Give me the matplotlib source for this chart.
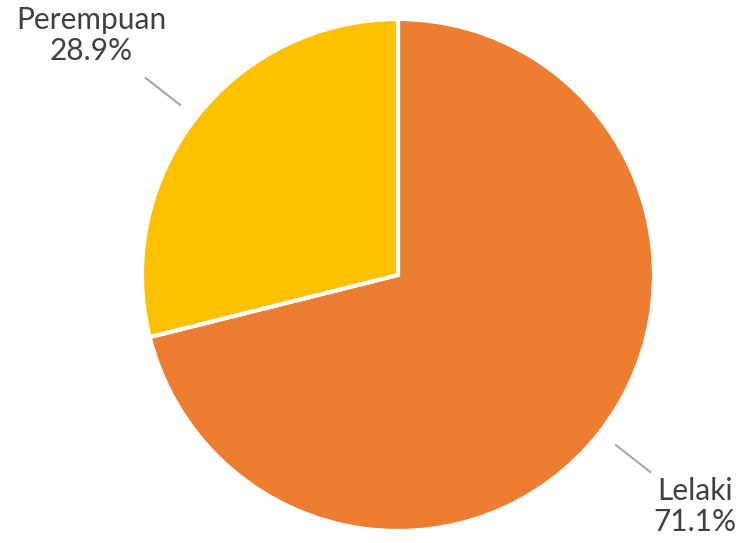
import matplotlib
matplotlib.use("Agg")

import numpy as np
import matplotlib.pyplot as plt

plt.rcParams["font.family"] = ["Lato", "DejaVu Sans"]

# Data
categories = ["Lelaki", "Perempuan"]
shares = [71.1, 28.9]
colors = ["#ED7D31", "#FFC000"]

C_TEXT = "#404040"
C_LINE = "#A6A6A6"

W, H = 736, 543
fig = plt.figure(figsize=(W / 100, H / 100), dpi=100)
ax = fig.add_axes([0, 0, 1, 1])

cx, cy, r = 398, 268, 256
wedges, _ = ax.pie(
    shares, colors=colors, startangle=90, counterclock=False,
    center=(cx, cy), radius=r, explode=[0.02, 0.02],
    wedgeprops=dict(edgecolor="white", linewidth=3),
    frame=True,
)
ax.set_xlim(0, W)
ax.set_ylim(0, H)
ax.set_aspect("equal")
ax.axis("off")

label_dist = [1.47, 1.52]
for w, name, val, ld in zip(wedges, categories, shares, label_dist):
    mid = np.deg2rad((w.theta1 + w.theta2) / 2)
    dx, dy = np.cos(mid), np.sin(mid)
    ax.plot([cx + 1.08 * r * dx, cx + 1.25 * r * dx],
            [cy + 1.08 * r * dy, cy + 1.25 * r * dy],
            color=C_LINE, linewidth=1.5)
    ax.text(cx + ld * r * dx, cy + ld * r * dy, f"{name}\n{val:.1f}%",
            fontsize=21.5, color=C_TEXT, ha="center", va="center",
            linespacing=1.1)

fig.savefig("out.png", dpi=100, facecolor="white")
